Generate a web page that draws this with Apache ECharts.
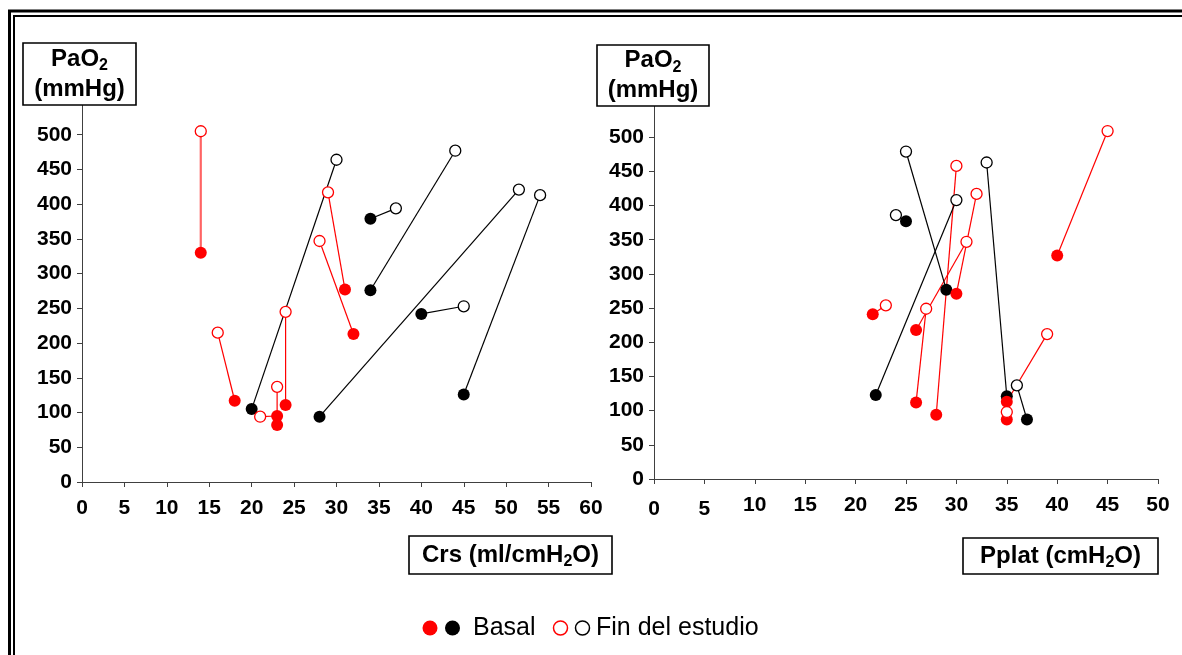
<!DOCTYPE html>
<html>
<head>
<meta charset="utf-8">
<script src="https://cdn.jsdelivr.net/npm/echarts@6/dist/echarts.min.js"></script>
<style>html,body{margin:0;padding:0;background:#fff}#c{width:1182px;height:655px}</style>
</head>
<body>
<div id="c"></div>
<script>
// ---------- DATA ----------
// Left panel: Crs (ml/cmH2O) vs PaO2 (mmHg); each pair basal[i] -> fin[i]
const crsBasalRed   = [[14,330],[18,117],[31,277],[32,213],[24,111],[23,82],[23,95]];
const crsFinRed     = [[14,505],[16,215],[29,417],[28,347],[24,245],[23,137],[21,94]];
const crsBasalBlack = [[20,105],[28,94],[34,379],[34,276],[40,242],[45,126]];
const crsFinBlack   = [[30,464],[51.5,421],[37,394],[44,477],[45,253],[54,413]];
// Right panel: Pplat (cmH2O) vs PaO2 (mmHg)
const pplatBasalRed   = [[28,94],[30,271],[26,218],[26,112],[21.7,241],[35,113],[35,87],[40,327]];
const pplatFinRed     = [[30,458],[32,417],[31,347],[27,249],[23,254],[39,212],[35,98],[45,509]];
const pplatBasalBlack = [[29,277],[35,121],[22,123],[25,377],[37,87]];
const pplatFinBlack   = [[25,479],[33,463],[30,408],[24,386],[36,137]];
// Axis / text labels
const yTitle = 'PaO{s|2}\n(mmHg)';
const xTitleLeft = 'Crs (ml/cmH{s|2}O)';
const xTitleRight = 'Pplat (cmH{s|2}O)';
const legendBasal = 'Basal';
const legendFin = 'Fin del estudio';

// ---------- STYLE ----------
const FF = '"Liberation Sans", Arial, Helvetica, sans-serif';
const RED = '#ff0000', BLACK = '#000000', AX = '#404040';

function pairLines(basal, fin, color, idx, thickFirst) {
  return basal.map((b, i) => ({
    type: 'line', xAxisIndex: idx, yAxisIndex: idx,
    data: [b, fin[i]], symbol: 'none', silent: true, z: 2,
    lineStyle: (thickFirst && i === 0) ? { color: '#ff6464', width: 2.2 } : { color: color, width: 1.2 }
  }));
}
function filled(data, color, idx) {
  return { type: 'scatter', xAxisIndex: idx, yAxisIndex: idx, data: data, symbol: 'circle',
    symbolSize: 12, z: 3, silent: true, itemStyle: { color: color, opacity: 1 } };
}
function open(data, color, idx) {
  return { type: 'scatter', xAxisIndex: idx, yAxisIndex: idx, data: data, symbol: 'circle',
    symbolSize: 11, z: 4, silent: true, itemStyle: { color: '#fff', borderColor: color, borderWidth: 1.3, opacity: 1 } };
}

const labelBase = { color: '#000', fontFamily: FF, fontWeight: 'bold', fontSize: 21 };
function xAxis(idx, max) {
  const ax = {
    type: 'value', gridIndex: idx, min: 0, max: max, interval: 5,
    axisLine: { show: true, onZero: false, lineStyle: { color: AX, width: 1 } },
    axisTick: { show: true, inside: false, length: 5, lineStyle: { color: AX } },
    splitLine: { show: false },
    axisLabel: Object.assign({ margin: 16 }, labelBase)
  };
  if (idx === 1) {
    ax.axisLabel.formatter = v => (v === 0 || v === 5) ? '{lo|' + v + '}' : '{hi|' + v + '}';
    ax.axisLabel.rich = {
      lo: Object.assign({ padding: [4, 0, 0, 0] }, labelBase),
      hi: Object.assign({}, labelBase)
    };
  }
  return ax;
}
function yAxis(idx) {
  return {
    type: 'value', gridIndex: idx, min: 0, max: 550, interval: 50,
    axisLine: { show: true, onZero: false, lineStyle: { color: AX, width: 1 } },
    axisTick: { show: true, inside: false, length: 5, lineStyle: { color: AX } },
    splitLine: { show: false },
    axisLabel: Object.assign({ margin: 10, formatter: v => v === 550 ? '' : String(v) }, labelBase)
  };
}

const richSub = { s: { fontFamily: FF, fontWeight: 'bold', fontSize: 16, lineHeight: 16, verticalAlign: 'bottom', fill: '#000', color: '#000' } };
function titleBox(x, y, w, h, text) {
  return {
    type: 'group', z: 100,
    children: [
      { type: 'rect', z: 100, shape: { x: x, y: y, width: w, height: h },
        style: { fill: '#fff', stroke: '#000', lineWidth: 1.6 } },
      { type: 'text', z: 101, style: {
          text: text, x: x + w / 2, y: y + h / 2,
          align: 'center', verticalAlign: 'middle', textAlign: 'center', textVerticalAlign: 'middle',
          fontFamily: FF, fontWeight: 'bold', fontSize: 24, lineHeight: 30, fill: '#000',
          rich: richSub } }
    ]
  };
}

const series = [].concat(
  pairLines(crsBasalRed, crsFinRed, RED, 0, true),
  pairLines(crsBasalBlack, crsFinBlack, BLACK, 0, false),
  pairLines(pplatBasalRed, pplatFinRed, RED, 1, false),
  pairLines(pplatBasalBlack, pplatFinBlack, BLACK, 1, false),
  [ filled(crsBasalBlack, BLACK, 0), filled(crsBasalRed, RED, 0),
    open(crsFinBlack, BLACK, 0), open(crsFinRed, RED, 0),
    filled(pplatBasalBlack, BLACK, 1), filled(pplatBasalRed, RED, 1),
    open(pplatFinBlack, BLACK, 1), open(pplatFinRed, RED, 1) ]
);

const legY = 628;
const graphic = [
  // double frame
  { type: 'rect', z: 90, shape: { x: 9.5, y: 11, width: 1200, height: 700 }, style: { fill: 'none', stroke: '#000', lineWidth: 3 } },
  { type: 'rect', z: 90, shape: { x: 14, y: 16, width: 1200, height: 700 }, style: { fill: 'none', stroke: '#000', lineWidth: 2 } },
  titleBox(23, 43, 113, 62, yTitle),
  titleBox(597, 45, 112, 61, yTitle),
  titleBox(409, 536, 203, 38, xTitleLeft),
  titleBox(963, 538, 195, 36, xTitleRight),
  // legend
  { type: 'circle', z: 100, shape: { cx: 430, cy: legY, r: 7.5 }, style: { fill: RED } },
  { type: 'circle', z: 100, shape: { cx: 452.5, cy: legY, r: 7.5 }, style: { fill: BLACK } },
  { type: 'text', z: 100, style: { text: legendBasal, x: 473, y: legY, align: 'left', verticalAlign: 'middle', textVerticalAlign: 'middle',
      fontFamily: FF, fontSize: 25, fontWeight: 'normal', fill: '#000' } },
  { type: 'circle', z: 100, shape: { cx: 560.5, cy: legY, r: 7 }, style: { fill: '#fff', stroke: RED, lineWidth: 1.5 } },
  { type: 'circle', z: 100, shape: { cx: 582.5, cy: legY, r: 7 }, style: { fill: '#fff', stroke: BLACK, lineWidth: 1.5 } },
  { type: 'text', z: 100, style: { text: legendFin, x: 596, y: legY, align: 'left', verticalAlign: 'middle', textVerticalAlign: 'middle',
      fontFamily: FF, fontSize: 25, fontWeight: 'normal', fill: '#000' } }
];

const chart = echarts.init(document.getElementById('c'), null, { renderer: 'canvas' });
chart.setOption({
  animation: false,
  backgroundColor: '#fff',
  grid: [
    { left: 82, top: 100, width: 509, height: 382, containLabel: false },
    { left: 654, top: 103, width: 504, height: 376, containLabel: false }
  ],
  xAxis: [xAxis(0, 60), xAxis(1, 50)],
  yAxis: [yAxis(0), yAxis(1)],
  series: series,
  graphic: graphic
});
</script>
</body>
</html>
